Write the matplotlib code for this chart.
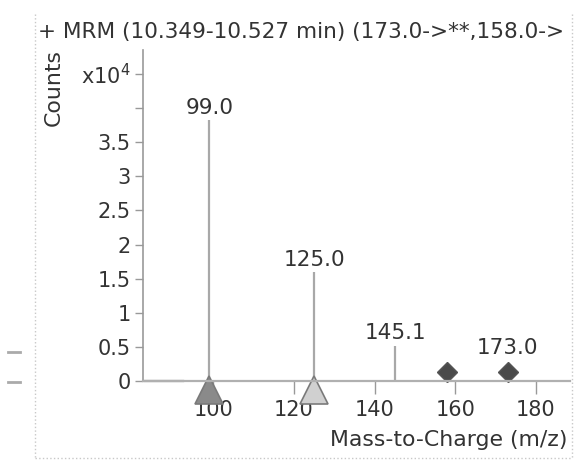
#!/usr/bin/env python3

import matplotlib
matplotlib.use('Agg')
import matplotlib.pyplot as plt

# spectrum peaks (m/z, counts x10^4)
peak_mz = [99.0, 125.0, 145.1]
peak_counts = [3.82, 1.59, 0.52]
peak_labels = ['99.0', '125.0', '145.1']

# precursor markers
precursor_mz = [158.0, 173.0]
precursor_y = [0.13, 0.13]

# product ion markers under the axis
product_mz = [99.0, 125.0]
product_colors = ['#8a8a8a', '#d0d0d0']

# short dark baseline at the left end
base_mz = [83.0, 92.5]
base_y = [0.0, 0.0]

y_ticks = [0, 0.5, 1, 1.5, 2, 2.5, 3, 3.5, 4, 4.5]
y_ticklabels = ['0', '0.5', '1', '1.5', '2', '2.5', '3', '3.5', '', 'x10$^4$']
x_ticks = [100, 120, 140, 160, 180]

W, H = 575, 466
TXT = '#333333'
AX = '#999999'


def fx(px):
    return px / W


def fy(py):
    return 1 - py / H


def main():
    plt.rcParams['font.family'] = ['DejaVu Sans']
    fig = plt.figure(figsize=(W / 100, H / 100), dpi=100)
    ax = fig.add_axes([fx(143), fy(381), fx(570) - fx(143), fy(50) - fy(381)])

    ax.set_xlim(82.5, 188.5)
    ax.set_ylim(0, 4.85)

    # stems
    ax.vlines(peak_mz, 0, peak_counts, color='#a8a8a8', lw=1.6)
    for mz, c, lab in zip(peak_mz, peak_counts, peak_labels):
        ax.text(mz, c + 0.04, lab, ha='center', va='bottom',
                fontsize=15.5, color=TXT)

    ax.plot(base_mz, base_y, color='#6a6a6a', lw=1.6, clip_on=False)

    ax.plot(precursor_mz, precursor_y, 'D', ms=10, color='#4a4a4a',
            mec='#555555', clip_on=False)
    ax.text(precursor_mz[1], precursor_y[1] + 0.2, '173.0', ha='center',
            va='bottom', fontsize=15.5, color=TXT)

    for mz, col in zip(product_mz, product_colors):
        ax.plot([mz], [-0.13], '^', ms=20, color=col, mec='#7a7a7a',
                mew=1.2, clip_on=False)

    # axes styling
    for s in ['top', 'right']:
        ax.spines[s].set_visible(False)
    ax.spines['left'].set_color(AX)
    ax.spines['bottom'].set_color('#b0b0b0')
    ax.spines['left'].set_linewidth(1.2)
    ax.spines['bottom'].set_linewidth(1.6)

    ax.set_yticks(y_ticks)
    ax.set_yticklabels(y_ticklabels)
    ax.set_xticks(x_ticks)
    ax.tick_params(axis='y', length=6, width=1, color=AX, pad=3,
                   labelsize=15, labelcolor=TXT)
    ax.tick_params(axis='x', length=9, width=1, color=AX, pad=5,
                   labelsize=15, labelcolor=TXT)

    # title as shown (cut short in the source panel)
    fig.text(fx(38), fy(32), '+ MRM (10.349-10.527 min) (173.0->**,158.0->',
             ha='left', va='center', fontsize=15.6, color=TXT)
    fig.text(fx(54), fy(87), 'Counts', rotation=90, ha='center',
             va='center', fontsize=15.8, color=TXT)
    fig.text(fx(568), fy(440), 'Mass-to-Charge (m/z)', ha='right',
             va='center', fontsize=15.8, color=TXT)

    # dotted panel frame and side markers
    dot = dict(color='#c8c8c8', lw=1, ls=':')
    fig.add_artist(plt.Line2D([fx(35), fx(35)], [fy(14), fy(458)], **dot))
    fig.add_artist(plt.Line2D([fx(35), fx(572)], [fy(458), fy(458)], **dot))
    fig.add_artist(plt.Line2D([fx(572), fx(572)], [fy(14), fy(458)], **dot))
    for py in [352, 382]:
        fig.add_artist(plt.Line2D([fx(8), fx(20)], [fy(py), fy(py)],
                                  color='#aaaaaa', lw=2))

    fig.savefig('out.png', dpi=100)


if __name__ == '__main__':
    main()
